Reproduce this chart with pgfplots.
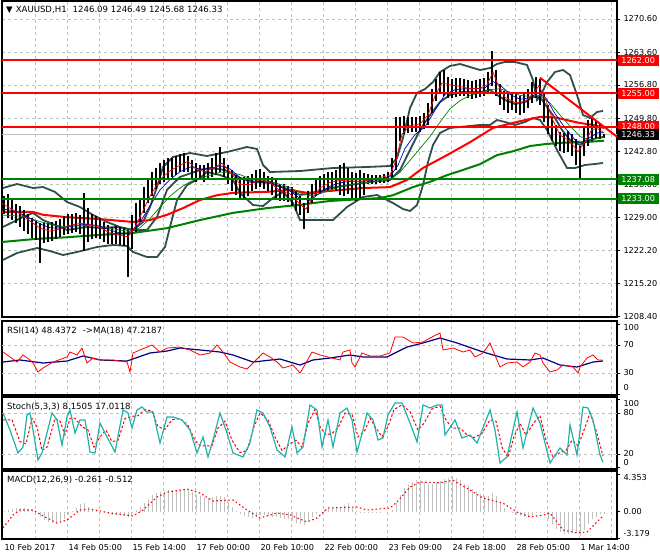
\documentclass[border=0pt]{standalone}
\usepackage{fontspec}
\setmainfont{DejaVu Sans}
\usepackage{pgfplots}
\usepackage{pgfplotstable}
\pgfplotsset{compat=1.18}

\definecolor{mtgrid}{RGB}{192,192,192}
\definecolor{mtslate}{RGB}{47,79,79}
\definecolor{mtgreen}{RGB}{0,128,0}
\definecolor{mtteal}{RGB}{32,178,170}
\definecolor{mtnavy}{RGB}{0,0,128}
\definecolor{mtblue}{RGB}{0,0,200}

\newcommand{\shift}[2]{\raisebox{#1}[\height][\depth]{#2}}

\pgfplotsset{
  mtpanel/.style={
    scale only axis, width=615bp, anchor=north west,
    xmin=2, xmax=617,
    axis line style={black, line width=1.2bp},
    xtick={35,67,...,611}, xticklabels={},
    major x tick style={draw=none},
    xmajorgrids, ymajorgrids,
    grid style={mtgrid, dash pattern=on 3bp off 3bp, line width=0.7bp},
    ytick pos=right, yticklabel pos=right, ytick align=outside,
    major tick length=3bp,
    tick style={black, line width=0.6bp},
    ticklabel style={font=\fontsize{8.2}{9.8}\selectfont},
    clip mode=individual,
  }
}

% price bars: x position, low, high
\pgfplotstableread{
x lo hi
4 1229.8 1233.6
8 1229.0 1233.9
12 1228.6 1233.0
16 1227.8 1231.8
20 1227.0 1231.4
24 1226.2 1230.6
28 1225.5 1229.8
32 1224.8 1229.0
36 1224.3 1228.3
40 1219.5 1227.8
44 1223.8 1228.0
48 1224.0 1227.9
52 1224.2 1228.0
56 1224.5 1228.4
60 1225.0 1228.8
64 1225.3 1229.3
68 1225.6 1229.8
72 1225.9 1229.8
76 1226.0 1230.0
80 1225.5 1229.5
84 1222.0 1234.2
88 1224.0 1231.0
92 1224.5 1229.7
96 1224.8 1229.3
100 1224.5 1229.0
104 1224.0 1228.0
108 1223.4 1227.4
112 1223.4 1227.0
116 1223.6 1227.2
120 1223.3 1227.0
124 1223.0 1226.8
128 1216.6 1226.5
132 1222.5 1229.5
136 1226.0 1232.0
140 1228.0 1233.0
144 1230.0 1235.5
148 1232.0 1237.0
152 1233.5 1238.5
156 1235.0 1239.5
160 1236.0 1240.5
164 1236.5 1241.0
168 1237.0 1241.5
172 1237.5 1241.5
176 1238.0 1242.0
180 1238.5 1242.3
184 1238.5 1242.6
188 1238.5 1242.0
192 1237.0 1241.0
196 1236.5 1240.5
200 1236.8 1240.0
204 1236.5 1240.0
208 1237.0 1240.5
212 1237.5 1241.5
216 1238.0 1242.5
220 1238.5 1243.8
224 1237.5 1241.5
228 1236.0 1240.0
232 1234.5 1239.0
236 1233.8 1238.0
240 1233.0 1237.5
244 1233.0 1237.6
248 1233.5 1237.8
252 1234.5 1238.2
256 1235.0 1239.0
260 1235.5 1239.2
264 1235.0 1238.5
268 1234.5 1237.8
272 1233.8 1237.6
276 1233.0 1236.8
280 1232.5 1236.0
284 1232.4 1236.0
288 1232.2 1235.6
292 1231.5 1235.4
296 1230.5 1234.5
300 1229.6 1233.6
304 1226.6 1232.0
308 1230.0 1234.5
312 1232.0 1236.0
316 1233.5 1237.2
320 1234.0 1237.8
324 1234.5 1238.2
328 1234.6 1238.6
332 1234.8 1238.6
336 1234.5 1239.0
340 1233.8 1240.0
344 1233.5 1240.4
348 1234.0 1239.5
352 1233.0 1238.6
356 1232.6 1238.4
360 1233.0 1238.9
364 1233.8 1238.4
368 1236.0 1238.2
372 1236.0 1238.0
376 1236.1 1238.0
380 1236.2 1238.0
384 1236.2 1238.2
388 1236.4 1238.6
392 1237.0 1241.5
396 1239.0 1250.0
400 1245.0 1250.0
404 1246.5 1250.2
408 1246.8 1250.0
412 1246.9 1250.0
416 1247.0 1250.0
420 1247.0 1250.2
424 1247.5 1251.0
428 1248.5 1253.0
432 1251.0 1256.0
436 1253.5 1258.0
440 1255.0 1259.5
444 1254.5 1259.9
448 1254.0 1258.5
452 1254.0 1258.0
456 1254.2 1258.2
460 1254.5 1258.2
464 1254.5 1258.0
468 1254.0 1257.8
472 1253.8 1257.6
476 1254.0 1257.8
480 1254.2 1258.0
484 1254.5 1258.2
488 1255.0 1259.5
492 1256.5 1263.8
496 1254.5 1260.0
500 1252.5 1257.0
504 1251.5 1255.5
508 1251.0 1255.0
512 1251.5 1255.2
516 1251.0 1254.8
520 1250.5 1254.5
524 1251.0 1255.0
528 1252.0 1256.0
532 1253.0 1257.5
536 1254.0 1258.5
540 1252.5 1258.0
544 1249.0 1255.0
548 1246.5 1252.5
552 1245.0 1250.0
556 1244.0 1248.5
560 1243.0 1247.0
564 1242.5 1246.8
568 1242.8 1247.2
572 1242.0 1246.5
576 1240.0 1245.5
580 1237.0 1244.0
584 1242.0 1248.0
588 1244.0 1249.5
592 1245.0 1250.0
596 1245.5 1249.5
600 1245.5 1248.8
604 1245.68 1246.49
}\bars

% MACD histogram
\pgfplotstableread{
x h
4 0.1
8 0.2
12 0.3
16 0.4
20 0.4
24 0.4
28 0.3
32 0.2
36 0.0
40 -0.6
44 -1.0
48 -1.2
52 -1.3
56 -1.2
60 -1.1
64 -0.8
68 -0.4
72 0.1
76 0.4
80 0.9
84 1.0
88 0.6
92 0.3
96 0.1
100 -0.1
104 -0.2
108 -0.3
112 -0.4
116 -0.4
120 -0.4
124 -0.5
128 -0.6
132 -0.2
136 0.2
140 0.6
144 1.0
148 1.5
152 2.0
156 2.2
160 2.3
164 2.4
168 2.5
172 2.5
176 2.5
180 2.5
184 2.6
188 2.5
192 2.3
196 2.0
200 1.8
204 1.7
208 1.6
212 1.7
216 1.9
220 1.9
224 1.7
228 1.2
232 0.6
236 0.1
240 -0.3
244 -0.5
248 -0.6
252 -0.7
256 -0.6
260 -0.4
264 -0.4
268 -0.5
272 -0.6
276 -0.6
280 -0.7
284 -0.8
288 -0.9
292 -1.1
296 -1.3
300 -1.5
304 -1.6
308 -1.1
312 -0.6
316 -0.3
320 0.0
324 0.2
328 0.3
332 0.4
336 0.5
340 0.6
344 0.8
348 1.0
352 0.4
356 0.1
360 -0.1
364 -0.1
368 -0.2
372 -0.1
376 -0.1
380 -0.1
384 0.0
388 0.0
392 0.2
396 1.0
400 2.0
404 2.8
408 3.2
412 3.5
416 3.7
420 3.7
424 3.5
428 3.3
432 3.3
436 3.5
440 3.6
444 3.8
448 4.0
452 4.2
456 4.0
460 3.7
464 3.3
468 3.0
472 2.7
476 2.4
480 2.1
484 1.9
488 1.9
492 2.2
496 1.8
500 1.0
504 0.4
508 0.0
512 -0.2
516 -0.4
520 -0.5
524 -0.6
528 -0.5
532 -0.4
536 -0.2
540 -0.1
544 -0.2
548 -0.8
552 -1.5
556 -2.0
560 -2.4
564 -2.6
568 -2.6
572 -2.5
576 -2.5
580 -2.8
584 -2.2
588 -1.4
592 -0.9
596 -0.6
600 -0.3
604 -0.261
}\macdhist

\begin{document}
\begin{tikzpicture}
\useasboundingbox (0bp,0bp) rectangle (660bp,560bp);

% ---------------- main price panel ----------------
\begin{axis}[mtpanel, at={(2bp,559bp)}, height=316bp,
  ymin=1208.2, ymax=1274.37,
  ytick={1208.4,1215.2,1222.2,1229.0,1236.0,1242.8,1249.8,1256.8,1263.6,1270.6},
  yticklabels={1208.40,1215.20,1222.20,1229.00,1236.00,1242.80,1249.80,1256.80,1263.60,1270.60}]

  % current price line
  \addplot[mtgrid, line width=1bp] coordinates {(2,1246.33) (617,1246.33)};

  % Bollinger bands (upper, middle, lower)
  \addplot[mtslate, line width=1.8bp] coordinates {
    (3,1235.21) (17,1236.05) (33,1235.21) (43,1235.42) (55,1234.38) (67,1232.28) (80,1231.23)
    (93,1229.56) (107,1228.09) (120,1227.04) (133,1226.42) (143,1228.09) (150,1231.23)
    (157,1235.42) (163,1239.61) (173,1241.70) (190,1242.54) (207,1241.91) (227,1242.75)
    (247,1243.80) (257,1243.38) (263,1240.03) (270,1238.56) (300,1238.77) (333,1239.40)
    (367,1239.61) (390,1239.82) (397,1241.49) (403,1245.68) (410,1251.96) (417,1255.11)
    (425,1255.94) (433,1257.41) (440,1259.50) (450,1260.76) (460,1261.18) (470,1260.55)
    (480,1259.92) (490,1260.34) (497,1261.18) (505,1261.60) (515,1261.60) (527,1260.97)
    (533,1257.83) (537,1253.64) (541,1254.69) (547,1257.41) (555,1259.50) (563,1259.92)
    (570,1258.87) (577,1254.69) (583,1250.50) (590,1249.87) (597,1251.13) (603,1251.34)};
  \addplot[mtslate, line width=1.8bp] coordinates {
    (3,1227.05) (13,1228.09) (23,1229.14) (33,1229.98) (43,1228.51) (67,1226.42) (87,1227.05)
    (100,1226.84) (117,1227.05) (133,1226.42) (147,1226.42) (157,1229.14) (167,1234.80)
    (180,1237.52) (200,1238.98) (210,1239.40) (225,1238.98) (240,1237.31) (255,1236.47)
    (270,1236.26) (285,1235.21) (300,1233.75) (315,1234.17) (330,1235.21) (350,1235.84)
    (370,1236.47) (390,1236.89) (400,1238.98) (410,1243.17) (420,1247.36) (430,1250.50)
    (440,1253.22) (450,1254.69) (460,1255.31) (470,1255.31) (480,1255.31) (490,1255.73)
    (497,1254.69) (505,1253.64) (515,1252.80) (525,1253.22) (533,1254.27) (540,1254.27)
    (547,1252.17) (555,1249.87) (562,1247.36) (570,1245.26) (580,1244.22) (590,1245.26)
    (597,1245.68) (603,1245.89)};
  \addplot[mtslate, line width=1.8bp] coordinates {
    (3,1220.14) (17,1221.60) (37,1222.65) (50,1222.02) (63,1221.18) (77,1221.81) (97,1222.86)
    (113,1223.28) (127,1223.07) (133,1221.81) (147,1220.76) (157,1220.76) (165,1222.86)
    (170,1227.05) (177,1232.70) (187,1235.84) (200,1237.31) (207,1238.56) (220,1237.93)
    (233,1236.89) (240,1234.17) (253,1231.65) (263,1231.44) (273,1233.12) (283,1234.38)
    (293,1232.07) (300,1228.51) (333,1228.51) (347,1231.23) (363,1233.33) (377,1233.75)
    (393,1232.07) (403,1230.81) (410,1230.40) (417,1231.65) (423,1235.84) (428,1240.66)
    (433,1244.22) (440,1246.73) (450,1247.78) (460,1247.99) (470,1248.20) (480,1248.41)
    (490,1248.41) (497,1249.45) (505,1249.03) (515,1248.41) (525,1249.03) (533,1249.87)
    (540,1249.45) (547,1247.36) (557,1243.17) (567,1239.40) (575,1239.40) (585,1240.03)
    (595,1240.24) (603,1240.45)};

  % slow moving averages
  \addplot[red, line width=2bp] coordinates {
    (2,1230.2) (33,1230.2) (43,1229.6) (67,1229.1) (100,1228.7) (133,1228.1) (150,1228.5)
    (167,1229.6) (183,1231.0) (200,1232.7) (217,1233.7) (233,1234.2) (267,1234.4)
    (290,1234.8) (307,1234.2) (330,1234.6) (363,1235.2) (390,1235.4) (407,1236.9)
    (423,1239.4) (447,1242.1) (470,1244.8) (493,1247.8) (520,1249.2) (540,1250.1)
    (555,1250.0) (578,1248.9) (593,1248.4) (604,1247.8)};
  \addplot[mtgreen, line width=2bp] coordinates {
    (2,1223.9) (33,1224.5) (67,1224.9) (100,1225.4) (133,1225.8) (167,1226.8) (200,1228.5)
    (233,1230.0) (267,1231.0) (300,1231.7) (330,1232.5) (363,1232.9) (380,1233.1)
    (393,1233.7) (413,1235.4) (430,1236.5) (447,1237.9) (463,1239.0) (480,1240.2)
    (497,1242.1) (513,1242.9) (530,1244.0) (545,1244.4) (563,1244.7) (583,1244.8) (604,1245.1)};

  % price bars (high-low)
  \addplot[draw=none, mark=none, error bars/.cd, y dir=both, y explicit,
    error mark=none, error bar style={black, line width=1.3bp}]
    table[x=x, y expr={(\thisrow{lo}+\thisrow{hi})/2},
          y error expr={(\thisrow{hi}-\thisrow{lo})/2}] {\bars};

  % fast moving averages
  \addplot[mtgreen, line width=0.7bp] coordinates {
    (2,1229.5) (10,1229.5) (20,1229.3) (30,1228.8) (40,1228.2) (50,1227.6) (60,1227.2)
    (70,1227.2) (80,1227.3) (90,1227.4) (100,1227.2) (110,1226.8) (120,1226.4) (130,1226.1)
    (140,1226.9) (150,1228.8) (160,1231.2) (170,1233.5) (180,1235.2) (190,1236.5)
    (200,1237.3) (210,1237.9) (220,1238.5) (230,1238.5) (240,1238.0) (250,1237.2)
    (260,1236.9) (270,1236.6) (280,1236.0) (290,1235.3) (300,1234.2) (310,1233.6)
    (320,1234.0) (330,1234.8) (340,1235.5) (350,1235.9) (360,1236.2) (370,1236.4)
    (380,1236.7) (390,1237.0) (400,1238.5) (410,1241.0) (420,1243.5) (430,1246.0)
    (440,1249.0) (450,1251.8) (460,1253.5) (470,1254.6) (480,1255.2) (490,1255.8)
    (500,1256.0) (510,1255.3) (520,1254.6) (530,1254.4) (540,1254.6) (550,1253.0)
    (560,1250.5) (570,1248.2) (580,1246.0) (590,1245.3) (598,1245.6) (604,1245.8)};
  \addplot[mtblue, line width=0.7bp] coordinates {
    (2,1230.8) (10,1230.6) (20,1229.9) (30,1228.9) (40,1227.7) (50,1226.9) (60,1226.8)
    (70,1227.1) (80,1227.5) (90,1227.6) (100,1227.2) (110,1226.4) (120,1225.8) (130,1225.6)
    (140,1228.0) (150,1231.5) (160,1234.8) (170,1237.0) (180,1238.6) (190,1239.6)
    (200,1239.2) (210,1239.2) (220,1239.9) (230,1239.2) (240,1237.4) (250,1236.4)
    (260,1236.6) (270,1236.5) (280,1235.4) (290,1234.6) (300,1233.0) (310,1232.6)
    (320,1234.2) (330,1235.6) (340,1236.3) (350,1236.6) (360,1236.6) (370,1236.8)
    (380,1237.1) (390,1237.6) (398,1240.0) (405,1243.5) (415,1246.4) (425,1248.0)
    (435,1251.5) (445,1254.8) (455,1255.8) (465,1256.0) (475,1256.0) (485,1256.2)
    (493,1257.5) (500,1256.8) (510,1254.8) (520,1253.8) (530,1254.1) (538,1255.2)
    (546,1254.0) (555,1250.8) (565,1247.8) (575,1245.3) (582,1244.5) (590,1245.8)
    (598,1246.8) (604,1246.8)};
  \addplot[red, line width=0.7bp] coordinates {
    (2,1232.0) (10,1231.0) (20,1229.8) (30,1228.3) (40,1226.8) (50,1226.2) (60,1226.6)
    (70,1227.4) (80,1227.8) (90,1227.6) (100,1226.9) (110,1225.8) (120,1225.3) (128,1225.0)
    (135,1227.0) (142,1230.0) (150,1233.5) (160,1237.0) (170,1238.8) (180,1240.0)
    (188,1240.8) (196,1239.2) (205,1238.6) (215,1239.6) (222,1240.4) (230,1238.6)
    (240,1236.0) (250,1235.9) (260,1237.0) (270,1236.4) (280,1234.6) (290,1234.0)
    (300,1231.8) (306,1230.8) (312,1233.0) (320,1235.2) (330,1236.4) (340,1236.8)
    (350,1236.7) (360,1236.6) (370,1236.9) (380,1237.4) (390,1237.9) (396,1241.0)
    (402,1246.5) (410,1248.3) (420,1248.6) (428,1250.5) (435,1254.5) (442,1257.2)
    (450,1256.8) (460,1256.5) (470,1256.0) (480,1256.1) (487,1256.8) (493,1259.5)
    (498,1256.8) (505,1254.2) (515,1253.1) (525,1253.3) (533,1255.0) (539,1256.6)
    (546,1253.5) (552,1249.8) (560,1246.3) (570,1245.0) (578,1242.8) (584,1244.6)
    (592,1247.5) (598,1247.6) (604,1246.8)};

  % horizontal levels and trend line
  \addplot[red, line width=2bp] coordinates {(2,1262) (617,1262)};
  \addplot[red, line width=2bp] coordinates {(2,1255) (617,1255)};
  \addplot[red, line width=2bp] coordinates {(2,1248) (617,1248)};
  \addplot[mtgreen, line width=2bp] coordinates {(2,1237.08) (617,1237.08)};
  \addplot[mtgreen, line width=2bp] coordinates {(2,1233) (617,1233)};
  \addplot[red, line width=2bp] coordinates {(540,1258.3) (617,1245.95)};

  % price tags on the scale
  \begin{scope}[every node/.style={anchor=west, text=white, inner sep=0pt,
      minimum width=41bp, minimum height=11bp, font=\fontsize{8.2}{9.8}\selectfont}]
    \node[fill=red] at (axis cs:617.5,1262) {1262.00};
    \node[fill=red] at (axis cs:617.5,1255) {1255.00};
    \node[fill=red] at (axis cs:617.5,1248) {1248.00};
    \node[fill=black] at (axis cs:617.5,1246.33) {1246.33};
    \node[fill=mtgreen] at (axis cs:617.5,1237.08) {1237.08};
    \node[fill=mtgreen] at (axis cs:617.5,1233) {1233.00};
  \end{scope}
\end{axis}

% ---------------- RSI panel ----------------
\begin{axis}[mtpanel, at={(2bp,239bp)}, height=74bp,
  ymin=-1.4, ymax=104.3,
  ytick={0,30,70,100},
  yticklabels={\shift{6bp}{0},30,70,\shift{-4bp}{100}},
  ymajorgrids=false,
  extra y ticks={30,70}, extra y tick labels={},
  extra y tick style={grid=major, major tick length=0pt}]
  \addplot[mtnavy, line width=1.2bp] coordinates {
    (3,45.7) (20,48.6) (43,44.3) (67,47.1) (83,54.3) (100,48.6) (127,47.1) (150,58.6)
    (167,61.4) (180,65.7) (200,62.9) (220,60) (233,55.7) (253,45.7) (280,50) (300,41.4)
    (313,48.6) (330,51.4) (350,55.7) (363,52.9) (387,52.9) (407,67.1) (423,72.9) (440,80)
    (457,72.9) (483,60) (507,50) (530,48.6) (543,51.4) (560,41.4) (577,38.6) (593,45.7) (603,47.2)};
  \addplot[red, line width=0.8bp] coordinates {
    (3,60) (10,52.9) (17,45.7) (23,55.7) (30,48.6) (33,44.3) (38,31.4) (43,37.1) (53,45.7)
    (67,52.9) (70,60) (77,55.7) (82,65.7) (87,44.3) (93,51.4) (100,48.6) (113,48.6)
    (127,45.7) (130,31.4) (133,58.6) (140,62.9) (152,70) (160,60) (167,65.7) (180,67.1)
    (190,62.9) (200,55.7) (210,58.6) (217,70) (223,60) (230,45.7) (240,38.6) (247,35.7)
    (253,44.3) (263,58.6) (270,52.9) (277,45.7) (283,37.1) (293,41.4) (300,30) (303,37.1)
    (312,60) (320,55.7) (328,52.9) (340,48.6) (343,60) (350,62.9) (352,44.3) (355,38.6)
    (362,58.6) (370,54.3) (380,54.3) (390,58.6) (395,81.4) (403,81.4) (413,72.9) (423,74.3)
    (430,80) (440,87.1) (443,62.9) (453,65.7) (463,60) (470,62.9) (475,52.9) (483,58.6)
    (490,72.9) (497,48.6) (500,38.6) (507,44.3) (517,45.7) (523,38.6) (530,45.7) (535,58.6)
    (540,55.7) (543,44.3) (550,31.4) (557,34.3) (563,41.4) (573,38.6) (578,30) (580,38.6)
    (587,51.4) (593,55.7) (598,48.6) (602,48.4)};
\end{axis}

% ---------------- Stochastic panel ----------------
\begin{axis}[mtpanel, at={(2bp,163bp)}, height=72bp,
  ymin=-2, ymax=103.4,
  ytick={0,20,80,100},
  yticklabels={\shift{5.5bp}{0},20,80,\shift{-4.5bp}{100}},
  ymajorgrids=false,
  extra y ticks={20,80}, extra y tick labels={},
  extra y tick style={grid=major, major tick length=0pt}]
  \addplot[red, line width=1bp, dash pattern=on 2.5bp off 2bp] coordinates {
    (3,70) (12,70) (20,38) (26,35) (32,72) (37,60) (42,25) (47,30) (55,72) (60,68) (65,48)
    (70,72) (75,72) (82,60) (88,55) (94,30) (100,45) (106,55) (112,38) (118,40) (125,72)
    (132,75) (138,76) (145,85) (152,83) (158,60) (165,56) (172,70) (180,72) (188,62)
    (195,40) (200,32) (207,32) (212,32) (218,58) (225,68) (232,40) (240,22) (247,25)
    (254,60) (260,80) (268,70) (275,45) (282,25) (290,35) (296,40) (302,30) (308,65)
    (315,85) (320,60) (326,48) (332,50) (338,58) (345,80) (352,78) (358,45) (365,55)
    (370,72) (376,58) (382,45) (388,60) (394,85) (402,92) (410,82) (418,55) (424,65)
    (432,86) (440,90) (446,70) (452,58) (460,58) (467,48) (474,44) (482,50) (490,70)
    (496,68) (502,30) (508,15) (514,45) (520,65) (526,48) (534,66) (540,76) (546,40)
    (553,15) (560,22) (566,25) (572,40) (578,32) (584,55) (590,80) (596,55) (603,17.01)};
  \addplot[mtteal, line width=1.2bp] coordinates {
    (3,80) (10,55.1) (18,21.5) (23,30.2) (27,77.1) (30,80) (33,55.1) (38,11.2) (42,21.5)
    (52,80) (57,69.8) (62,33.2) (67,74.2) (70,84.4) (75,50.7) (80,69.8) (85,69.8) (90,22.9)
    (95,21.5) (100,65.4) (107,44.9) (115,22.9) (123,84.4) (128,80) (132,58.1) (137,84.4)
    (142,88.8) (147,81.5) (153,81.5) (160,36.1) (167,74.2) (173,74.2) (182,69.8) (190,55.1)
    (197,21.5) (203,44.9) (208,15.6) (213,40.5) (220,80) (227,50.7) (233,21.5) (243,15.6)
    (250,36.1) (257,84.4) (263,80) (270,59.5) (277,25.9) (285,15.6) (292,59.5) (297,21.5)
    (303,30.2) (310,91.7) (317,84.4) (322,30.2) (328,69.8) (333,30.2) (340,80) (347,87.3)
    (352,69.8) (357,22.9) (363,55.1) (367,80) (373,69.8) (378,40.5) (383,43.4) (388,77.1)
    (395,94.7) (402,94.7) (410,65.4) (417,37.6) (423,91.7) (430,87.3) (437,91.7) (442,91.7)
    (445,47.8) (455,69.8) (462,43.4) (470,47.8) (477,36.1) (490,84.4) (495,55.1) (500,6.8)
    (507,15.6) (517,81.5) (523,28.8) (533,87.3) (540,65.4) (550,6.8) (560,28.8) (567,18.5)
    (570,62.5) (577,18.5) (583,88.8) (588,87.3) (593,69.8) (600,18.5) (603,8.15)};
\end{axis}

% ---------------- MACD panel ----------------
\begin{axis}[mtpanel, at={(2bp,89bp)}, height=68bp,
  ymin=-3.21, ymax=4.79,
  ytick={-3.179,0,4.353},
  yticklabels={\shift{5.5bp}{-3.179},0.00,\shift{-3bp}{4.353}},
  ymajorgrids=false,
  extra x ticks={3,67,131,195,259,323,387,451,515,579},
  extra x tick labels={10 Feb 2017,14 Feb 05:00,15 Feb 14:00,17 Feb 00:00,20 Feb 10:00,
    22 Feb 00:00,23 Feb 09:00,24 Feb 18:00,28 Feb 05:00,1 Mar 14:00},
  extra x tick style={grid=none, major tick length=0pt,
    xticklabel style={anchor=north west, xshift=-2bp, yshift=-2bp}}]
  \addplot[ycomb, mtgrid, line width=1bp, mark=none] table[x=x, y=h] {\macdhist};
  \addplot[red, line width=1.1bp, dash pattern=on 1.5bp off 2.5bp] coordinates {
    (3,-1.9) (13,-0.4) (20,0.2) (33,0.2) (47,-0.74) (57,-1.33) (67,-0.98) (80,0.2) (90,0.32)
    (110,-0.15) (133,-0.5) (143,0.2) (157,1.73) (167,2.3) (187,2.67) (200,2.2) (213,1.26)
    (233,1.38) (247,0.2) (260,-0.74) (277,-0.15) (290,-0.39) (307,-1.2) (317,-0.74)
    (328,0.44) (357,0.55) (367,0.2) (390,0.44) (397,1.14) (410,2.9) (420,3.5) (440,3.4)
    (453,3.7) (470,2.55) (483,1.6) (503,1.0) (517,-0.04) (530,-0.6) (543,-0.4) (550,-0.15)
    (563,-2.15) (577,-2.5) (587,-2.4) (597,-1.2) (603,-0.512)};
\end{axis}

% panel captions
\begin{scope}[every node/.style={anchor=west, inner sep=0pt, font=\fontsize{8.6}{10}\selectfont}]
  \node at (6bp,550bp) {▼\hspace{3bp}XAUUSD,H1\hspace{6bp}1246.09 1246.49 1245.68 1246.33};
  \node at (7bp,229bp) {RSI(14) 48.4372\hspace{6bp}->MA(18) 47.2187};
  \node at (7bp,153bp) {Stoch(5,3,3) 8.1505 17.0118};
  \node at (7bp,80bp) {MACD(12,26,9) -0.261 -0.512};
\end{scope}
\end{tikzpicture}
\end{document}
